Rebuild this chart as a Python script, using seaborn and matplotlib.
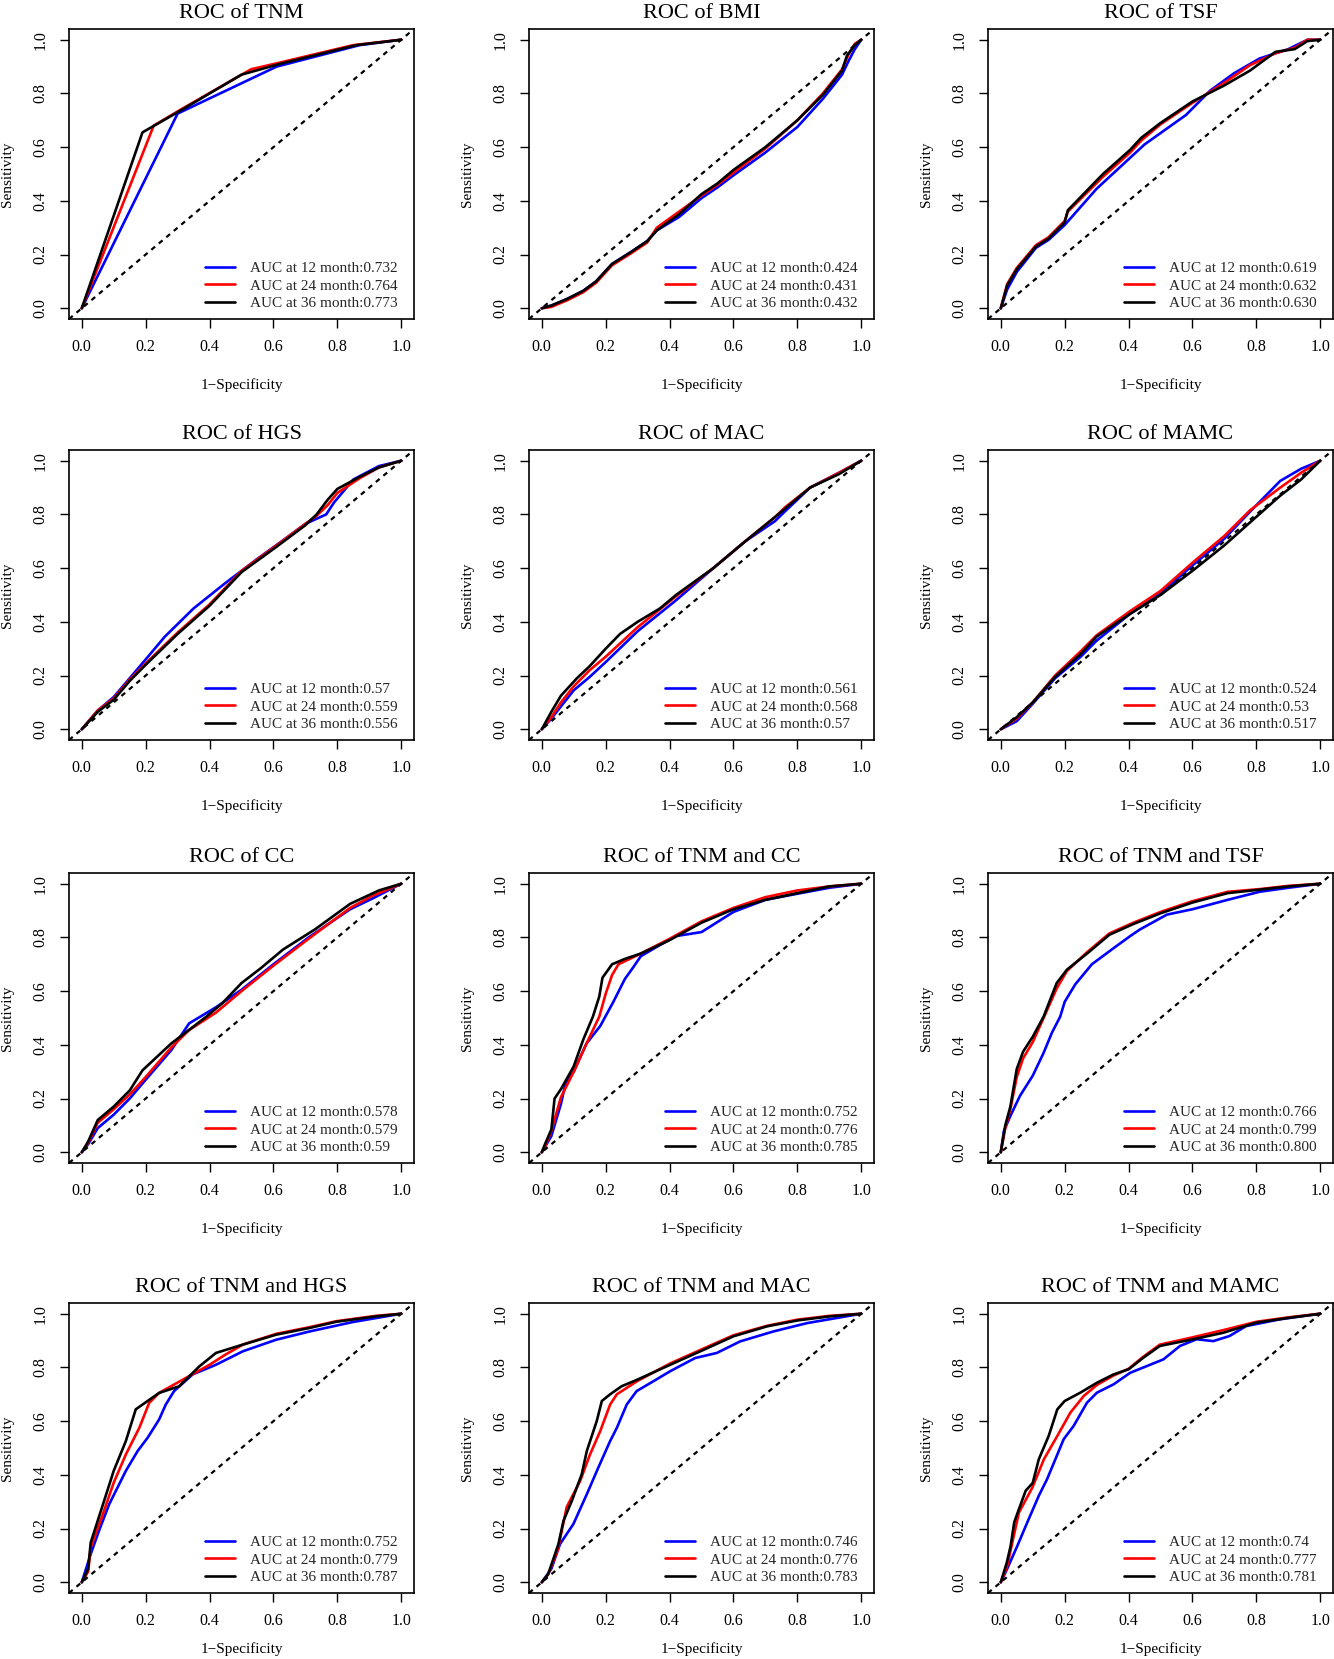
import numpy as np
import pandas as pd
import matplotlib
matplotlib.use("Agg")
import matplotlib.pyplot as plt
import seaborn as sns

# ---- data (1-specificity / sensitivity) ----
titles = ["ROC of TNM", "ROC of BMI", "ROC of TSF",
          "ROC of HGS", "ROC of MAC", "ROC of MAMC",
          "ROC of CC", "ROC of TNM and CC", "ROC of TNM and TSF",
          "ROC of TNM and HGS", "ROC of TNM and MAC", "ROC of TNM and MAMC"]
months = ["12", "24", "36"]
auc_tnm = ["0.732", "0.764", "0.773"]
auc_bmi = ["0.424", "0.431", "0.432"]
auc_tsf = ["0.619", "0.632", "0.630"]
auc_hgs = ["0.57", "0.559", "0.556"]
auc_mac = ["0.561", "0.568", "0.57"]
auc_mamc = ["0.524", "0.53", "0.517"]
auc_cc = ["0.578", "0.579", "0.59"]
auc_tnm_cc = ["0.752", "0.776", "0.785"]
auc_tnm_tsf = ["0.766", "0.799", "0.800"]
auc_tnm_hgs = ["0.752", "0.779", "0.787"]
auc_tnm_mac = ["0.746", "0.776", "0.783"]
auc_tnm_mamc = ["0.74", "0.777", "0.781"]

# TNM
tnm_12_fpr = [0, 0.30, 0.61, 0.87, 1.0]
tnm_12_tpr = [0, 0.725, 0.90, 0.98, 1.0]
tnm_24_fpr = [0, 0.225, 0.31, 0.53, 0.62, 0.85, 1.0]
tnm_24_tpr = [0, 0.68, 0.74, 0.89, 0.915, 0.98, 1.0]
tnm_36_fpr = [0, 0.19, 0.30, 0.50, 0.62, 0.86, 1.0]
tnm_36_tpr = [0, 0.655, 0.73, 0.87, 0.91, 0.98, 1.0]

# BMI
bmi_12_fpr = [0, 0.03, 0.08, 0.13, 0.17, 0.22, 0.28, 0.33, 0.36, 0.43, 0.50, 0.55, 0.60, 0.70, 0.80, 0.88, 0.94, 0.96, 0.98, 1.0]
bmi_12_tpr = [0, 0.01, 0.035, 0.065, 0.10, 0.165, 0.21, 0.25, 0.29, 0.34, 0.41, 0.45, 0.495, 0.58, 0.675, 0.78, 0.87, 0.92, 0.965, 1.0]
bmi_24_fpr = [0, 0.03, 0.08, 0.13, 0.17, 0.22, 0.28, 0.33, 0.36, 0.43, 0.50, 0.55, 0.60, 0.70, 0.80, 0.88, 0.94, 0.96, 0.98, 1.0]
bmi_24_tpr = [0, 0.005, 0.03, 0.06, 0.095, 0.16, 0.205, 0.245, 0.30, 0.36, 0.42, 0.46, 0.505, 0.595, 0.70, 0.80, 0.89, 0.945, 0.985, 1.0]
bmi_36_fpr = [0, 0.03, 0.08, 0.13, 0.17, 0.22, 0.28, 0.33, 0.36, 0.43, 0.50, 0.55, 0.60, 0.70, 0.80, 0.88, 0.94, 0.955, 0.98, 1.0]
bmi_36_tpr = [0, 0.01, 0.035, 0.065, 0.10, 0.165, 0.21, 0.25, 0.29, 0.35, 0.425, 0.465, 0.515, 0.60, 0.70, 0.795, 0.885, 0.94, 0.98, 1.0]

# TSF
tsf_12_fpr = [0, 0.02, 0.05, 0.11, 0.15, 0.20, 0.30, 0.45, 0.58, 0.655, 0.73, 0.81, 0.90, 0.96, 1.0]
tsf_12_tpr = [0, 0.07, 0.135, 0.225, 0.255, 0.31, 0.445, 0.61, 0.72, 0.81, 0.875, 0.93, 0.965, 1.0, 1.0]
tsf_24_fpr = [0, 0.02, 0.05, 0.11, 0.15, 0.20, 0.21, 0.32, 0.405, 0.44, 0.50, 0.60, 0.70, 0.78, 0.86, 0.92, 0.96, 1.0]
tsf_24_tpr = [0, 0.09, 0.15, 0.235, 0.265, 0.325, 0.36, 0.49, 0.58, 0.625, 0.685, 0.765, 0.84, 0.905, 0.95, 0.97, 1.0, 1.0]
tsf_36_fpr = [0, 0.02, 0.05, 0.11, 0.15, 0.20, 0.21, 0.32, 0.405, 0.44, 0.50, 0.60, 0.70, 0.78, 0.86, 0.92, 0.96, 1.0]
tsf_36_tpr = [0, 0.085, 0.145, 0.23, 0.26, 0.32, 0.365, 0.50, 0.59, 0.635, 0.69, 0.77, 0.83, 0.885, 0.955, 0.965, 0.995, 1.0]

# HGS
hgs_12_fpr = [0, 0.05, 0.10, 0.15, 0.20, 0.26, 0.35, 0.45, 0.55, 0.62, 0.70, 0.765, 0.79, 0.85, 0.93, 1.0]
hgs_12_tpr = [0, 0.07, 0.12, 0.19, 0.26, 0.345, 0.45, 0.545, 0.635, 0.695, 0.765, 0.80, 0.845, 0.93, 0.98, 1.0]
hgs_24_fpr = [0, 0.05, 0.10, 0.15, 0.20, 0.30, 0.40, 0.50, 0.61, 0.70, 0.735, 0.77, 0.80, 0.87, 0.93, 1.0]
hgs_24_tpr = [0, 0.07, 0.115, 0.185, 0.245, 0.36, 0.465, 0.59, 0.685, 0.765, 0.795, 0.835, 0.88, 0.935, 0.975, 1.0]
hgs_36_fpr = [0, 0.05, 0.10, 0.15, 0.20, 0.30, 0.40, 0.50, 0.61, 0.70, 0.735, 0.77, 0.80, 0.87, 0.93, 1.0]
hgs_36_tpr = [0, 0.065, 0.11, 0.18, 0.24, 0.355, 0.46, 0.585, 0.68, 0.76, 0.80, 0.855, 0.895, 0.94, 0.975, 1.0]

# MAC
mac_12_fpr = [0, 0.03, 0.06, 0.10, 0.15, 0.20, 0.30, 0.42, 0.537, 0.637, 0.73, 0.76, 0.84, 0.93, 1.0]
mac_12_tpr = [0, 0.04, 0.085, 0.145, 0.195, 0.25, 0.365, 0.48, 0.60, 0.70, 0.775, 0.81, 0.90, 0.955, 1.0]
mac_24_fpr = [0, 0.03, 0.06, 0.10, 0.15, 0.20, 0.30, 0.42, 0.537, 0.637, 0.73, 0.76, 0.84, 0.93, 1.0]
mac_24_tpr = [0, 0.045, 0.10, 0.16, 0.22, 0.27, 0.38, 0.495, 0.60, 0.70, 0.79, 0.825, 0.90, 0.955, 1.0]
mac_36_fpr = [0, 0.03, 0.06, 0.11, 0.15, 0.20, 0.245, 0.30, 0.37, 0.42, 0.537, 0.637, 0.74, 0.84, 0.93, 1.0]
mac_36_tpr = [0, 0.065, 0.125, 0.19, 0.235, 0.30, 0.355, 0.40, 0.45, 0.50, 0.60, 0.70, 0.80, 0.90, 0.95, 1.0]

# MAMC
mamc_12_fpr = [0, 0.05, 0.10, 0.17, 0.25, 0.30, 0.405, 0.50, 0.60, 0.70, 0.78, 0.875, 0.94, 1.0]
mamc_12_tpr = [0, 0.03, 0.095, 0.19, 0.27, 0.33, 0.43, 0.505, 0.61, 0.71, 0.81, 0.925, 0.97, 1.0]
mamc_24_fpr = [0, 0.05, 0.10, 0.17, 0.25, 0.30, 0.405, 0.50, 0.60, 0.70, 0.78, 0.875, 0.94, 1.0]
mamc_24_tpr = [0, 0.04, 0.10, 0.20, 0.29, 0.35, 0.44, 0.515, 0.62, 0.72, 0.815, 0.90, 0.955, 1.0]
mamc_36_fpr = [0, 0.05, 0.10, 0.17, 0.25, 0.30, 0.405, 0.50, 0.60, 0.70, 0.78, 0.875, 0.94, 1.0]
mamc_36_tpr = [0, 0.045, 0.10, 0.195, 0.28, 0.345, 0.43, 0.50, 0.59, 0.685, 0.77, 0.87, 0.93, 1.0]

# CC
cc_12_fpr = [0, 0.02, 0.05, 0.10, 0.15, 0.20, 0.28, 0.336, 0.42, 0.50, 0.60, 0.71, 0.84, 0.91, 1.0]
cc_12_tpr = [0, 0.03, 0.09, 0.14, 0.20, 0.27, 0.38, 0.48, 0.54, 0.605, 0.70, 0.80, 0.905, 0.945, 1.0]
cc_24_fpr = [0, 0.02, 0.05, 0.10, 0.15, 0.20, 0.28, 0.336, 0.42, 0.50, 0.60, 0.71, 0.84, 0.91, 1.0]
cc_24_tpr = [0, 0.035, 0.11, 0.16, 0.215, 0.28, 0.39, 0.455, 0.52, 0.60, 0.695, 0.795, 0.91, 0.955, 1.0]
cc_36_fpr = [0, 0.02, 0.05, 0.10, 0.15, 0.19, 0.28, 0.39, 0.44, 0.50, 0.56, 0.63, 0.73, 0.84, 0.93, 1.0]
cc_36_tpr = [0, 0.04, 0.12, 0.17, 0.23, 0.305, 0.405, 0.505, 0.555, 0.63, 0.685, 0.755, 0.83, 0.925, 0.975, 1.0]

# TNM and CC
tnm_cc_12_fpr = [0, 0.01, 0.03, 0.06, 0.075, 0.10, 0.14, 0.183, 0.224, 0.26, 0.287, 0.31, 0.36, 0.42, 0.50, 0.60, 0.70, 0.81, 0.90, 1.0]
tnm_cc_12_tpr = [0, 0.02, 0.06, 0.18, 0.26, 0.30, 0.405, 0.47, 0.56, 0.645, 0.69, 0.73, 0.765, 0.805, 0.82, 0.895, 0.94, 0.965, 0.985, 1.0]
tnm_cc_24_fpr = [0, 0.01, 0.03, 0.06, 0.10, 0.14, 0.18, 0.20, 0.22, 0.24, 0.31, 0.40, 0.50, 0.60, 0.70, 0.80, 0.90, 1.0]
tnm_cc_24_tpr = [0, 0.02, 0.08, 0.205, 0.30, 0.405, 0.505, 0.59, 0.66, 0.70, 0.74, 0.795, 0.86, 0.91, 0.95, 0.975, 0.99, 1.0]
tnm_cc_36_fpr = [0, 0.01, 0.03, 0.04, 0.06, 0.10, 0.13, 0.16, 0.18, 0.19, 0.22, 0.26, 0.31, 0.40, 0.50, 0.60, 0.70, 0.80, 0.90, 1.0]
tnm_cc_36_tpr = [0, 0.03, 0.085, 0.20, 0.235, 0.32, 0.42, 0.505, 0.58, 0.65, 0.70, 0.72, 0.74, 0.79, 0.855, 0.905, 0.94, 0.965, 0.99, 1.0]

# TNM and TSF
tnm_tsf_12_fpr = [0, 0.01, 0.03, 0.06, 0.10, 0.134, 0.16, 0.186, 0.20, 0.233, 0.285, 0.353, 0.405, 0.436, 0.52, 0.60, 0.71, 0.81, 0.90, 1.0]
tnm_tsf_12_tpr = [0, 0.08, 0.135, 0.21, 0.285, 0.37, 0.445, 0.505, 0.56, 0.625, 0.70, 0.76, 0.805, 0.83, 0.885, 0.905, 0.94, 0.97, 0.985, 1.0]
tnm_tsf_24_fpr = [0, 0.014, 0.03, 0.05, 0.07, 0.10, 0.134, 0.175, 0.207, 0.27, 0.34, 0.415, 0.50, 0.60, 0.71, 0.81, 0.90, 1.0]
tnm_tsf_24_tpr = [0, 0.09, 0.16, 0.28, 0.35, 0.41, 0.50, 0.61, 0.675, 0.745, 0.815, 0.855, 0.895, 0.935, 0.97, 0.98, 0.992, 1.0]
tnm_tsf_36_fpr = [0, 0.014, 0.03, 0.05, 0.07, 0.10, 0.134, 0.175, 0.207, 0.27, 0.34, 0.415, 0.50, 0.60, 0.71, 0.81, 0.90, 1.0]
tnm_tsf_36_tpr = [0, 0.10, 0.17, 0.31, 0.375, 0.43, 0.505, 0.63, 0.68, 0.74, 0.81, 0.85, 0.89, 0.93, 0.965, 0.978, 0.99, 1.0]

# TNM and HGS
tnm_hgs_12_fpr = [0, 0.028, 0.054, 0.086, 0.138, 0.175, 0.206, 0.242, 0.263, 0.289, 0.347, 0.42, 0.504, 0.608, 0.713, 0.848, 1.0]
tnm_hgs_12_tpr = [0, 0.105, 0.192, 0.291, 0.415, 0.489, 0.538, 0.606, 0.662, 0.712, 0.774, 0.81, 0.86, 0.903, 0.934, 0.969, 1.0]
tnm_hgs_24_fpr = [0, 0.02, 0.028, 0.065, 0.10, 0.138, 0.18, 0.211, 0.242, 0.326, 0.40, 0.45, 0.504, 0.608, 0.713, 0.796, 0.92, 1.0]
tnm_hgs_24_tpr = [0, 0.04, 0.13, 0.25, 0.371, 0.476, 0.575, 0.668, 0.705, 0.761, 0.81, 0.848, 0.885, 0.925, 0.95, 0.972, 0.992, 1.0]
tnm_hgs_36_fpr = [0, 0.02, 0.028, 0.065, 0.10, 0.138, 0.169, 0.206, 0.242, 0.305, 0.368, 0.42, 0.504, 0.608, 0.713, 0.796, 0.92, 1.0]
tnm_hgs_36_tpr = [0, 0.05, 0.148, 0.285, 0.415, 0.526, 0.644, 0.675, 0.705, 0.73, 0.804, 0.854, 0.885, 0.922, 0.947, 0.97, 0.99, 1.0]

# TNM and MAC
tnm_mac_12_fpr = [0, 0.03, 0.057, 0.099, 0.141, 0.177, 0.214, 0.235, 0.266, 0.297, 0.35, 0.402, 0.48, 0.548, 0.621, 0.725, 0.83, 1.0]
tnm_mac_12_tpr = [0, 0.05, 0.142, 0.217, 0.328, 0.427, 0.526, 0.575, 0.662, 0.712, 0.749, 0.786, 0.835, 0.854, 0.897, 0.934, 0.965, 1.0]
tnm_mac_24_fpr = [0, 0.02, 0.05, 0.078, 0.12, 0.151, 0.183, 0.214, 0.235, 0.266, 0.30, 0.402, 0.496, 0.60, 0.705, 0.80, 0.90, 1.0]
tnm_mac_24_tpr = [0, 0.03, 0.12, 0.28, 0.377, 0.476, 0.563, 0.662, 0.70, 0.724, 0.75, 0.815, 0.865, 0.92, 0.955, 0.978, 0.992, 1.0]
tnm_mac_36_fpr = [0, 0.02, 0.052, 0.068, 0.094, 0.125, 0.141, 0.172, 0.188, 0.214, 0.25, 0.30, 0.402, 0.496, 0.60, 0.705, 0.80, 0.90, 1.0]
tnm_mac_36_tpr = [0, 0.03, 0.142, 0.229, 0.303, 0.402, 0.489, 0.60, 0.675, 0.70, 0.73, 0.755, 0.81, 0.86, 0.916, 0.953, 0.975, 0.99, 1.0]

# TNM and MAMC
tnm_mamc_12_fpr = [0, 0.02, 0.052, 0.083, 0.119, 0.145, 0.197, 0.228, 0.27, 0.301, 0.353, 0.405, 0.509, 0.561, 0.613, 0.665, 0.716, 0.768, 0.872, 1.0]
tnm_mamc_12_tpr = [0, 0.05, 0.136, 0.223, 0.322, 0.384, 0.533, 0.582, 0.669, 0.706, 0.737, 0.78, 0.83, 0.88, 0.905, 0.898, 0.917, 0.954, 0.979, 1.0]
tnm_mamc_24_fpr = [0, 0.02, 0.042, 0.057, 0.099, 0.135, 0.177, 0.218, 0.26, 0.301, 0.353, 0.40, 0.446, 0.498, 0.60, 0.70, 0.80, 0.903, 1.0]
tnm_mamc_24_tpr = [0, 0.06, 0.18, 0.26, 0.353, 0.458, 0.545, 0.632, 0.694, 0.735, 0.77, 0.795, 0.84, 0.885, 0.912, 0.94, 0.97, 0.987, 1.0]
tnm_mamc_36_fpr = [0, 0.019, 0.031, 0.042, 0.057, 0.078, 0.10, 0.119, 0.15, 0.177, 0.20, 0.249, 0.301, 0.353, 0.40, 0.446, 0.498, 0.602, 0.696, 0.80, 0.903, 1.0]
tnm_mamc_36_tpr = [0, 0.074, 0.136, 0.223, 0.273, 0.341, 0.37, 0.458, 0.545, 0.644, 0.675, 0.706, 0.743, 0.774, 0.793, 0.836, 0.88, 0.905, 0.929, 0.967, 0.985, 1.0]

panels = [
    (auc_tnm, [(tnm_12_fpr, tnm_12_tpr), (tnm_24_fpr, tnm_24_tpr), (tnm_36_fpr, tnm_36_tpr)]),
    (auc_bmi, [(bmi_12_fpr, bmi_12_tpr), (bmi_24_fpr, bmi_24_tpr), (bmi_36_fpr, bmi_36_tpr)]),
    (auc_tsf, [(tsf_12_fpr, tsf_12_tpr), (tsf_24_fpr, tsf_24_tpr), (tsf_36_fpr, tsf_36_tpr)]),
    (auc_hgs, [(hgs_12_fpr, hgs_12_tpr), (hgs_24_fpr, hgs_24_tpr), (hgs_36_fpr, hgs_36_tpr)]),
    (auc_mac, [(mac_12_fpr, mac_12_tpr), (mac_24_fpr, mac_24_tpr), (mac_36_fpr, mac_36_tpr)]),
    (auc_mamc, [(mamc_12_fpr, mamc_12_tpr), (mamc_24_fpr, mamc_24_tpr), (mamc_36_fpr, mamc_36_tpr)]),
    (auc_cc, [(cc_12_fpr, cc_12_tpr), (cc_24_fpr, cc_24_tpr), (cc_36_fpr, cc_36_tpr)]),
    (auc_tnm_cc, [(tnm_cc_12_fpr, tnm_cc_12_tpr), (tnm_cc_24_fpr, tnm_cc_24_tpr), (tnm_cc_36_fpr, tnm_cc_36_tpr)]),
    (auc_tnm_tsf, [(tnm_tsf_12_fpr, tnm_tsf_12_tpr), (tnm_tsf_24_fpr, tnm_tsf_24_tpr), (tnm_tsf_36_fpr, tnm_tsf_36_tpr)]),
    (auc_tnm_hgs, [(tnm_hgs_12_fpr, tnm_hgs_12_tpr), (tnm_hgs_24_fpr, tnm_hgs_24_tpr), (tnm_hgs_36_fpr, tnm_hgs_36_tpr)]),
    (auc_tnm_mac, [(tnm_mac_12_fpr, tnm_mac_12_tpr), (tnm_mac_24_fpr, tnm_mac_24_tpr), (tnm_mac_36_fpr, tnm_mac_36_tpr)]),
    (auc_tnm_mamc, [(tnm_mamc_12_fpr, tnm_mamc_12_tpr), (tnm_mamc_24_fpr, tnm_mamc_24_tpr), (tnm_mamc_36_fpr, tnm_mamc_36_tpr)]),
]
colors = ["#0000FF", "#FF0000", "#000000"]

# ---- style ----
sns.set_theme(style="white")
plt.rcParams["font.family"] = ["Liberation Serif", "DejaVu Serif"]
plt.rcParams["axes.unicode_minus"] = True

W, H = 1334, 1659
fig = plt.figure(figsize=(W / 100, H / 100), dpi=100)
fig.patch.set_facecolor("white")

col_left = [69, 529, 988]
row_top = [29, 450, 873, 1303]
ax_w, ax_h = 345, 290

for i, (title, (aucs, curves)) in enumerate(zip(titles, panels)):
    r, c = divmod(i, 3)
    ax = fig.add_axes([col_left[c] / W, 1 - (row_top[r] + ax_h) / H, ax_w / W, ax_h / H])
    for m, auc, (fpr, tpr), col in zip(months, aucs, curves, colors):
        df = pd.DataFrame({"fpr": fpr, "tpr": tpr})
        sns.lineplot(data=df, x="fpr", y="tpr", sort=False, estimator=None,
                     color=col, lw=1.9, ax=ax,
                     label=f"AUC at {m} month:{auc}")
    ax.axline((0, 0), slope=1, color="black", lw=1.6, ls=(0, (2.2, 2.2)))

    ax.set_xlim(-0.04, 1.04)
    ax.set_ylim(-0.04, 1.04)
    ticks = [0, 0.2, 0.4, 0.6, 0.8, 1.0]
    ax.set_xticks(ticks)
    ax.set_yticks(ticks)
    ax.set_xticklabels([f"{t:.1f}" for t in ticks])
    ax.set_yticklabels([f"{t:.1f}" for t in ticks], rotation=90, va="center")
    ax.tick_params(axis="both", direction="out", length=6.5, width=1.0,
                   labelsize=11.5, pad=8, bottom=True, left=True, colors="black")
    for s in ax.spines.values():
        s.set_visible(True)
        s.set_color("black")
        s.set_linewidth(1.2)

    ax.set_title(title, fontsize=16, pad=8, color="black")
    ax.set_xlabel("1\u2212Specificity", fontsize=11, color="black")
    ax.set_ylabel("Sensitivity", fontsize=11, color="black")
    # bottom row: keep the label inside the canvas
    ax.xaxis.set_label_coords(0.5, -0.205 if r < 3 else -0.17)
    ax.yaxis.set_label_coords(-0.16, 0.5)

    ax.legend(loc="lower right", bbox_to_anchor=(0.952, 0.03), frameon=False,
              fontsize=11, handlelength=2.0, handletextpad=0.95,
              labelspacing=0.26, borderpad=0, borderaxespad=0)

fig.savefig("out.png", dpi=100, facecolor="white")
